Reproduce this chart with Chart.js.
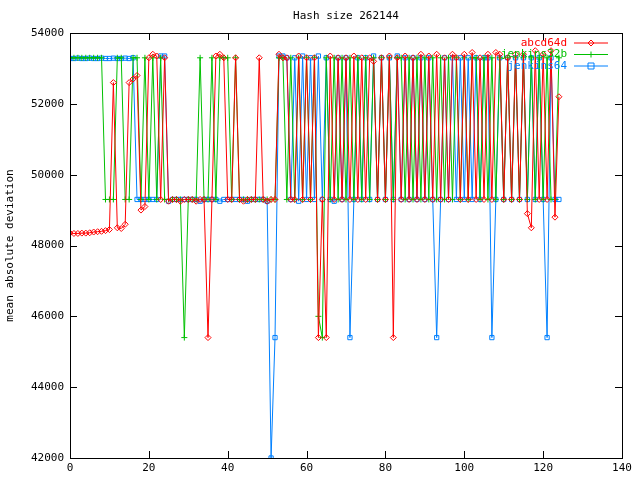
<!DOCTYPE html>
<html><head><script src="https://cdn.jsdelivr.net/npm/chart.js"></script>
<style>body{margin:0;background:#fff}#w{width:640px;height:480px}</style></head>
<body><div id="w"><canvas id="c"></canvas></div>
<script>
const seriesNames = ["abcd64d", "jenkins32b", "jenkins64"];
const abcd64d = [48350,48340,48340,48350,48350,48360,48380,48390,48400,48420,
48450,52600,48500,48480,48600,52600,52700,52800,49000,49100,
53300,53400,53350,49300,53300,49250,49300,49300,49250,49300,
49300,49300,49250,49300,49300,45400,49300,53350,53400,53300,
49300,49300,53300,49300,49250,49300,49300,49300,53300,49300,
49250,49300,49300,53400,53300,53300,49300,49300,53350,49300,
53300,49300,53300,45400,49300,45400,53350,49300,53300,49300,
53300,49300,53350,49300,53300,49300,53300,53200,49300,53300,
49300,53350,45400,53300,49300,53350,49300,53300,49300,53400,
49300,53350,49300,53400,49300,53300,49300,53400,53300,49300,
53400,49300,53450,49300,53300,49300,53400,49300,53450,53400,
49300,53300,49300,53400,49300,53400,48900,48500,53500,49300,
53400,49300,53500,48800,52200];
const jenkins32b = [53300,53300,53300,53300,53300,53300,53300,53300,53300,49300,
49300,49300,53300,53300,49300,49300,53300,53300,49300,53300,
49300,53300,49300,53300,49300,49300,49300,49300,49300,45400,
49300,49300,49300,53300,49300,49300,53300,49300,53300,53300,
53300,49300,53300,49300,49300,49300,49300,49300,49300,49300,
49300,49300,49300,53300,53300,49300,53300,49300,53300,49300,
53300,49300,53300,46000,45400,53300,49300,53300,49300,53300,
49300,53300,49300,53300,49300,53300,49300,53300,49300,53300,
49300,53300,49300,53300,53300,49300,53300,49300,53300,49300,
53300,49300,53300,49300,53300,49300,53300,49300,53300,49300,
53300,49300,53300,53300,49300,53300,49300,53300,49300,53300,
49300,53300,49300,53300,49300,53300,49300,53300,49300,53300,
49300,53300,49300,49300,53300];
const jenkins64 = [53280,53280,53290,53280,53280,53290,53280,53280,53290,53280,
53280,53290,53280,53280,53290,53280,53300,49300,49300,49300,
49300,49300,49300,53350,53350,49250,49300,49300,49300,49300,
49300,49300,49300,49250,49300,49300,49300,49300,49250,49300,
49300,49300,49300,49300,49300,49250,49300,49300,49300,49300,
49250,42000,45400,53350,53350,53300,49300,53300,49250,53350,
49300,53300,49300,53350,49300,53300,49300,49250,53300,49300,
53300,45400,49300,53300,49300,53300,49300,53350,49300,53300,
49300,53300,49300,53350,49300,53300,49300,53300,49300,53300,
49300,53300,49300,45400,49300,53300,49300,53300,49300,53300,
49300,53300,49300,53300,49300,53300,53300,45400,49300,53300,
49300,53300,49300,53300,49300,53300,49300,53300,49300,53300,
49300,45400,53300,49300,49300];
const xTicks = [0,20,40,60,80,100,120,140];
const yTicks = [42000,44000,46000,48000,50000,52000,54000];
const colors = ["#ff0000","#00c000","#0080ff"];
const styles = ["rectRot","cross","rect"];
const all = [abcd64d, jenkins32b, jenkins64];
const FONT = "'DejaVu Sans Mono', monospace";

const legendPlugin = {id:'lg', afterDatasetsDraw(ch){
  const c = ch.ctx; c.save(); c.font = "11px "+FONT; c.textAlign='right'; c.textBaseline='middle';
  seriesNames.forEach((n,i)=>{
    const y = 43 + i*11.5;
    c.fillStyle = colors[i]; c.fillText(n, 567, y);
    c.strokeStyle = colors[i]; c.lineWidth = 1;
    c.beginPath(); c.moveTo(574,y); c.lineTo(608,y); c.stroke();
    c.beginPath();
    if(i===0){c.moveTo(591,y-3);c.lineTo(594,y);c.lineTo(591,y+3);c.lineTo(588,y);c.closePath();}
    else if(i===1){c.moveTo(591,y-3);c.lineTo(591,y+3);c.moveTo(588,y);c.lineTo(594,y);}
    else {c.rect(588,y-3,6,6);}
    c.stroke();
  });
  c.restore();
}};
const framePlugin = {id:'fr', afterDraw(ch){
  const a = ch.chartArea, c = ch.ctx; c.save(); c.strokeStyle='#000'; c.lineWidth=1;
  c.strokeRect(a.left+0.5,a.top+0.5,a.right-a.left,a.bottom-a.top);
  const xs = ch.scales.x, ys = ch.scales.y;
  c.beginPath();
  xTicks.forEach(t=>{const px=Math.round(xs.getPixelForValue(t))+0.5; c.moveTo(px,a.bottom);c.lineTo(px,a.bottom-7);c.moveTo(px,a.top);c.lineTo(px,a.top+7);});
  yTicks.forEach(t=>{const py=Math.round(ys.getPixelForValue(t))+0.5; c.moveTo(a.left,py);c.lineTo(a.left+7,py);c.moveTo(a.right,py);c.lineTo(a.right-7,py);});
  c.stroke();
  c.fillStyle='#000'; c.font="11px "+FONT; c.textAlign='center';
  c.fillText("Hash size 262144", (a.left+a.right)/2, 19);
  c.restore();
}};

new Chart(document.getElementById('c'), {
  type:'line',
  data:{datasets: all.map((d,i)=>({
    label: seriesNames[i],
    data: d.map((v,k)=>({x:k,y:v})),
    borderColor: colors[i], backgroundColor:'transparent',
    borderWidth:1, pointStyle: styles[i], pointRadius:3,
    pointBorderColor: colors[i], pointBackgroundColor:'transparent', pointBorderWidth:1,
    tension:0
  }))},
  options:{
    responsive:true, maintainAspectRatio:false, animation:false,
    layout:{padding:{left:0,right:18,top:33,bottom:0}},
    plugins:{legend:{display:false}, tooltip:{enabled:false}},
    scales:{
      x:{type:'linear', min:0, max:140, afterBuildTicks(s){s.ticks=xTicks.map(v=>({value:v}));},
        afterFit(s){s.height=22;},
        grid:{display:false, drawTicks:false}, border:{display:false},
        ticks:{color:'#000', font:{family:FONT,size:11}, padding:4, maxRotation:0, callback:v=>String(v)}},
      y:{min:42000, max:54000, afterBuildTicks(s){s.ticks=yTicks.map(v=>({value:v}));},
        afterFit(s){s.width=70;},
        grid:{display:false, drawTicks:false}, border:{display:false},
        title:{display:true, text:'mean absolute deviation', color:'#000', font:{family:FONT,size:11}, padding:{bottom:6}},
        ticks:{color:'#000', font:{family:FONT,size:11}, padding:6, callback:v=>String(v)}}
    }
  },
  plugins:[legendPlugin, framePlugin]
});
</script></body></html>
